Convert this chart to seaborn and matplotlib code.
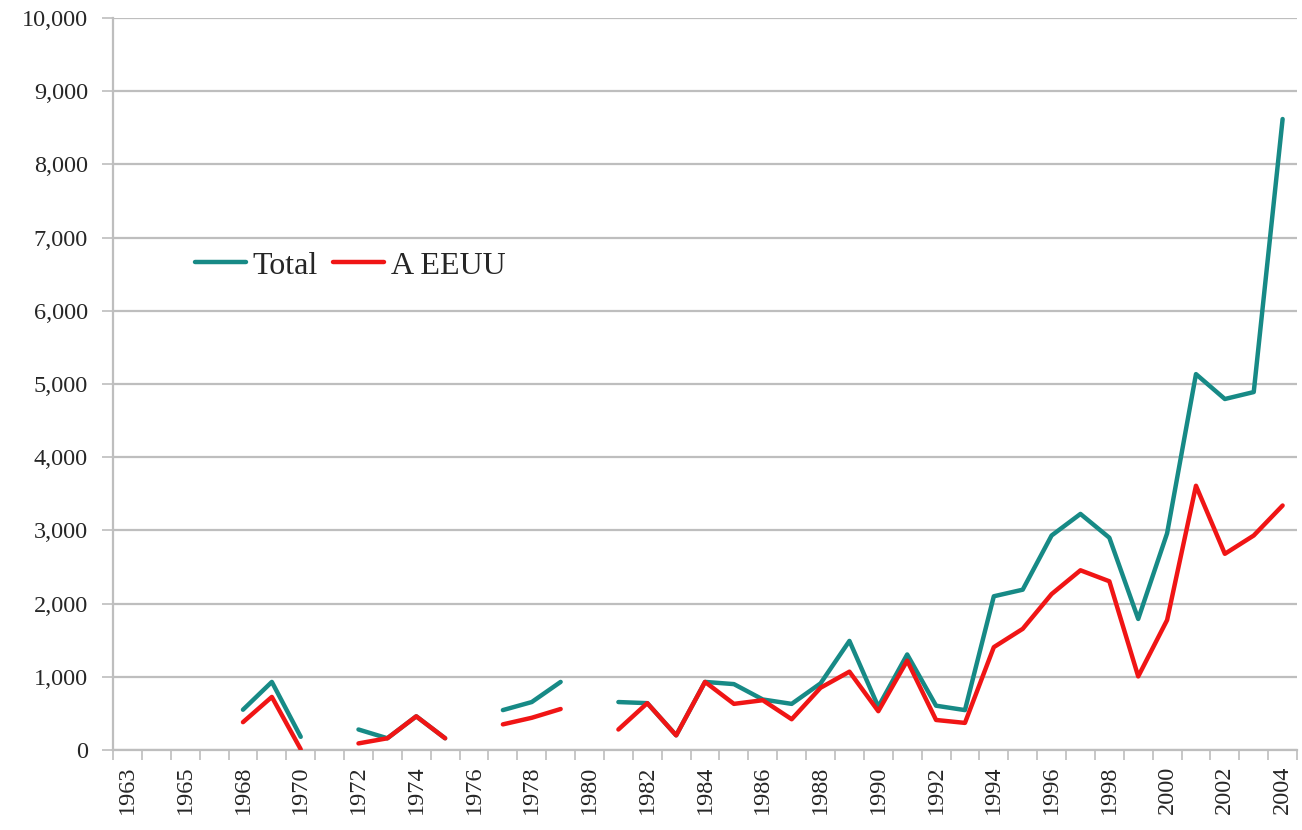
import numpy as np
import pandas as pd
import matplotlib
matplotlib.use("Agg")
import matplotlib.pyplot as plt
from matplotlib.lines import Line2D
from matplotlib.ticker import FuncFormatter
import seaborn as sns

# years on the category axis (1966 is not in the source table)
years = [1963, 1964, 1965, 1967] + list(range(1968, 2005))

nan = np.nan
# total investment
total = [nan, nan, nan, nan,
         550, 930, 180, nan, 280, 160, 460, 160, nan, 545, 655, 930, nan,
         655, 640, 200, 930, 900, 690, 630, 910, 1490, 590, 1305, 605, 545,
         2100, 2190, 2930, 3225, 2900, 1790, 2960, 5135, 4795, 4890, 8620]
# of which, to the US
eeuu = [nan, nan, nan, nan,
        380, 725, 10, nan, 90, 160, 460, 160, nan, 350, 440, 560, nan,
        280, 640, 200, 930, 630, 680, 420, 850, 1070, 530, 1220, 410, 370,
        1405, 1655, 2130, 2455, 2305, 1005, 1775, 3610, 2680, 2930, 3340]

series_names = ["Total", "A EEUU"]
colors = ["#178A86", "#F01515"]

# long table, one unit per unbroken run so gaps stay gaps
rows = []
for name, vals in zip(series_names, [total, eeuu]):
    seg = 0
    prev_nan = True
    for i, v in enumerate(vals):
        if np.isnan(v):
            prev_nan = True
            continue
        if prev_nan:
            seg += 1
        prev_nan = False
        rows.append({"idx": i, "value": v, "series": name, "seg": f"{name}_{seg}"})
df = pd.DataFrame(rows)

sns.set_style("white")
plt.rcParams["font.family"] = ["Liberation Serif", "DejaVu Serif"]

fig = plt.figure(figsize=(13.02, 8.30), dpi=100)
ax = fig.add_axes([0.0868, 0.0964, 0.9094, 0.8819])

sns.lineplot(data=df, x="idx", y="value", hue="series", units="seg",
             estimator=None, palette=dict(zip(series_names, colors)),
             linewidth=3.2, legend=False, ax=ax, zorder=3)

ax.set_xlim(-0.5, len(years) - 0.5)
ax.set_ylim(0, 10000)
ax.set_xlabel("")
ax.set_ylabel("")

grid_c = "#BEBEBE"
ax.set_yticks(np.arange(0, 10001, 1000))
ax.yaxis.set_major_formatter(FuncFormatter(lambda v, p: f"{int(v):,}"))
ax.grid(axis="y", color=grid_c, linewidth=1.6)
ax.set_axisbelow(True)

# labels every other category, tick marks on the category boundaries
lab_idx = list(range(0, len(years), 2))
ax.set_xticks(lab_idx)
ax.set_xticklabels([str(years[i]) for i in lab_idx], rotation=90)
ax.set_xticks(np.arange(-0.5, len(years), 1), minor=True)
ax.tick_params(axis="x", which="major", bottom=True, length=0, pad=11,
               labelsize=17.5)
ax.tick_params(axis="x", which="minor", bottom=True, length=7, width=1.2,
               color=grid_c, direction="out")
ax.tick_params(axis="y", left=True, length=8, width=1.2, color=grid_c,
               direction="out", pad=10, labelsize=17.5)

for s in ["top", "right"]:
    ax.spines[s].set_visible(False)
for s in ["left", "bottom"]:
    ax.spines[s].set_color(grid_c)
    ax.spines[s].set_linewidth(1.6)

handles = [Line2D([0], [0], color=c, lw=3.2) for c in colors]
ax.legend(handles, series_names, loc="upper left", bbox_to_anchor=(0.05, 0.712),
          ncol=2, frameon=False, fontsize=23, handlelength=1.6,
          handletextpad=0.2, columnspacing=0.5, borderpad=0.2)

fig.savefig("out.png", dpi=100)
